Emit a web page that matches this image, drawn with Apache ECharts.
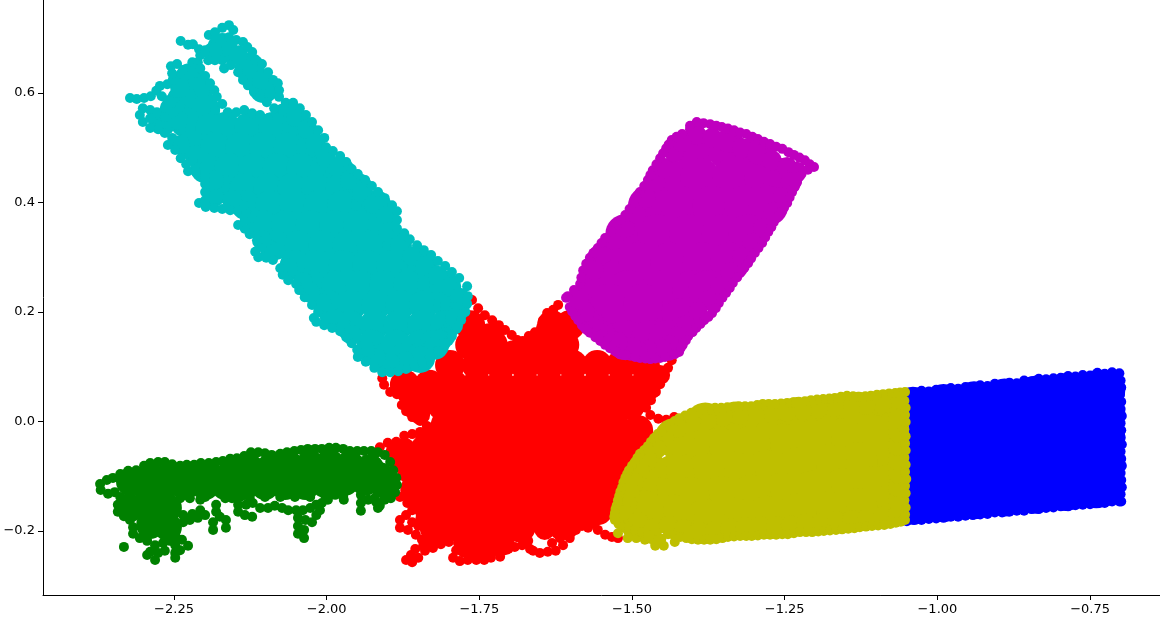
<!DOCTYPE html>
<html lang="en" style="height: 100%">
  <head>
    <meta charset="utf-8">
    <title>Clusters</title>
  </head>
  <body style="height: 100%; margin: 0; background: #fff">
    <div id="container" style="width: 1160px; height: 630px"></div>
    <script src="https://cdn.jsdelivr.net/npm/echarts@6/dist/echarts.min.js"></script>
    <script>
      var xTicks = [-2.25, -2.0, -1.75, -1.5, -1.25, -1.0, -0.75];
      var yTicks = [-0.2, 0.0, 0.2, 0.4, 0.6];

      // points; "fill" sits inside a cluster, "rim" just inside its border, "edge" traces the outline
      var redFill = [[-1.765,.176],[-1.733,.152],[-1.765,.14],[-1.728,.14],[-1.693,.121],[-1.652,.14],[-1.611,.14],[-1.602,.176],[-1.631,.176],[-1.672,.128],[-1.63,.16],
        [-1.798,.103],[-1.754,.103],[-1.715,.103],[-1.675,.103],[-1.636,.103],[-1.597,.103],[-1.557,.103],[-1.518,.103],[-1.479,.103],
        [-1.872,.067],[-1.832,.067],[-1.793,.067],[-1.754,.067],[-1.715,.067],[-1.675,.067],[-1.636,.067],[-1.597,.067],[-1.557,.067],[-1.518,.067],[-1.479,.067],
        [-1.85,.03],[-1.811,.03],[-1.772,.03],[-1.733,.03],[-1.693,.03],[-1.654,.03],[-1.615,.03],[-1.575,.03],[-1.536,.03],[-1.503,.03],
        [-1.805,-.006],[-1.765,-.006],[-1.726,-.006],[-1.687,-.006],[-1.647,-.006],[-1.608,-.006],[-1.569,-.006],[-1.53,-.006],[-1.49,-.016],
        [-1.824,-.034],[-1.785,-.029],[-1.746,-.029],[-1.706,-.029],[-1.667,-.029],[-1.628,-.029],[-1.589,-.029],[-1.549,-.029],[-1.51,-.029],
        [-1.88,-.061],[-1.839,-.052],[-1.8,-.052],[-1.76,-.052],[-1.721,-.052],[-1.682,-.052],[-1.643,-.052],[-1.603,-.052],[-1.564,-.052],[-1.525,-.052],[-1.487,-.052],
        [-1.86,-.089],[-1.821,-.089],[-1.782,-.089],[-1.742,-.089],[-1.703,-.089],[-1.664,-.089],[-1.624,-.089],[-1.585,-.089],[-1.546,-.089],[-1.507,-.089],
        [-1.855,-.125],[-1.816,-.125],[-1.777,-.125],[-1.737,-.125],[-1.698,-.125],[-1.659,-.125],[-1.62,-.125],[-1.58,-.125],[-1.541,-.125],[-1.502,-.125],
        [-1.831,-.162],[-1.792,-.162],[-1.752,-.162],[-1.713,-.162],[-1.674,-.162],[-1.634,-.162],[-1.595,-.162],[-1.556,-.162],[-1.516,-.162],
        [-1.823,-.194],[-1.782,-.194],[-1.742,-.194],[-1.703,-.194],[-1.683,-.194],[-1.642,-.184],[-1.61,-.189],[-1.757,-.226],[-1.724,-.216]];
      var redRim = [[-1.86,.024],[-1.847,.012],[-1.839,-.034],[-1.872,-.048],[-1.86,-.134],[-1.847,-.152],[-1.839,-.18],[-1.827,-.216],[-1.806,-.202],[-1.773,-.231],[-1.749,-.235],[-1.708,-.226],[-1.643,-.198],[-1.618,-.198],[-1.593,-.171],[-1.569,-.171],[-1.454,.085],[-1.47,.058],[-1.484,.039]];
      var redEdge = [[-1.762,.222],[-1.752,.207],[-1.741,.194],[-1.729,.185],[-1.718,.176],[-1.708,.167],[-1.697,.158],[-1.688,.149],[-1.679,.147],[-1.669,.156],[-1.659,.163],[-1.649,.171],[-1.646,.184],[-1.639,.198],[-1.629,.204],[-1.621,.213],
        [-1.435,.112],[-1.441,.098],[-1.448,.083],[-1.454,.068],[-1.461,.054],[-1.469,.039],[-1.477,.025],[-1.47,.012],[-1.457,.005],[-1.444,.003],[-1.431,.008],
        [-1.909,.079],[-1.906,.067],[-1.896,.054],[-1.885,.05],[-1.875,.045],[-1.877,.03],[-1.87,.019],[-1.86,.008],[-1.847,.001],[-1.836,-.008],[-1.847,-.019],[-1.86,-.023],[-1.873,-.026],[-1.886,-.037],[-1.9,-.039],[-1.913,-.047],
        [-1.88,-.138],[-1.868,-.149],[-1.86,-.162],[-1.87,-.171],[-1.88,-.18],[-1.88,-.194],[-1.867,-.198],[-1.86,-.184],[-1.85,-.191],[-1.854,-.207],[-1.844,-.216],[-1.842,-.227],[-1.855,-.233],[-1.862,-.244],[-1.87,-.253],[-1.86,-.257],[-1.85,-.249],[-1.839,-.236],[-1.826,-.231],[-1.813,-.224],[-1.8,-.22],[-1.79,-.207],[-1.785,-.222],[-1.788,-.235],[-1.793,-.249],[-1.782,-.255],[-1.769,-.253],[-1.755,-.253],[-1.742,-.253],[-1.731,-.249],[-1.716,-.247],[-1.728,-.238],[-1.705,-.231],[-1.692,-.229],[-1.68,-.226],[-1.67,-.218],
        [-1.667,-.233],[-1.662,-.236],[-1.651,-.24],[-1.638,-.238],[-1.625,-.236],[-1.613,-.226],[-1.602,-.213],[-1.592,-.198],[-1.582,-.191],[-1.572,-.194],[-1.562,-.187],[-1.556,-.198],[-1.544,-.207],[-1.533,-.211],[-1.523,-.213],[-1.631,-.222],[-1.618,-.213]];

      var greenFill = [[-2.322,-.11],[-2.289,-.1],[-2.257,-.1],[-2.224,-.1],[-2.191,-.1],[-2.158,-.096],[-2.126,-.085],[-2.093,-.085],[-2.06,-.081],[-2.027,-.078],[-1.995,-.076],[-1.962,-.079],[-1.929,-.085],[-1.913,-.1],
        [-2.297,-.118],[-2.265,-.118],[-2.232,-.118],[-2.199,-.118],[-2.166,-.118],[-2.134,-.118],[-2.101,-.118],[-2.068,-.118],[-2.035,-.118],[-2.003,-.114],[-1.97,-.11],[-1.937,-.11],[-1.908,-.114],
        [-2.322,-.158],[-2.289,-.152],[-2.26,-.158],[-2.289,-.189],[-2.26,-.193]];
      var greenEdge = [[-2.371,-.114],[-2.36,-.107],[-2.35,-.103],[-2.338,-.096],[-2.325,-.09],[-2.312,-.089],[-2.299,-.081],[-2.289,-.076],[-2.276,-.074],[-2.265,-.074],[-2.253,-.078],[-2.24,-.081],[-2.229,-.079],[-2.217,-.079],[-2.206,-.076],[-2.193,-.076],[-2.181,-.074],[-2.17,-.072],[-2.158,-.068],[-2.147,-.067],[-2.135,-.063],[-2.124,-.056],[-2.112,-.056],[-2.101,-.058],[-2.09,-.061],[-2.076,-.059],[-2.065,-.056],[-2.053,-.054],[-2.042,-.052],[-2.031,-.05],[-2.019,-.05],[-2.008,-.05],[-1.996,-.048],[-1.985,-.048],[-1.973,-.05],[-1.962,-.054],[-1.95,-.054],[-1.939,-.054],[-1.927,-.054],[-1.916,-.056],[-1.905,-.061],[-1.896,-.074],[-1.891,-.089],[-1.886,-.103],[-1.885,-.116],[-1.888,-.129],[-1.895,-.14],[-1.905,-.143],[-1.913,-.154],[-1.916,-.158],[-1.919,-.147],
        [-2.37,-.125],[-2.358,-.132],[-2.347,-.129],[-2.342,-.152],[-2.342,-.165],[-2.332,-.173],[-2.322,-.18],[-2.317,-.193],[-2.317,-.205],[-2.306,-.213],[-2.294,-.218],[-2.332,-.229],[-2.281,-.226],[-2.268,-.222],[-2.257,-.218],[-2.247,-.211],[-2.237,-.216],[-2.227,-.227],[-2.24,-.235],[-2.248,-.24],[-2.248,-.249],[-2.248,-.226],[-2.265,-.236],[-2.276,-.24],[-2.289,-.238],[-2.281,-.253],[-2.294,-.244],[-2.338,-.138],[-2.325,-.138],[-2.335,-.149],
        [-2.207,-.143],[-2.199,-.138],[-2.207,-.162],[-2.199,-.171],[-2.211,-.176],[-2.224,-.18],[-2.235,-.184],[-2.248,-.184],[-2.257,-.189],[-2.24,-.14],[-2.224,-.14],[-2.235,-.171],[-2.22,-.169],[-2.181,-.152],[-2.181,-.165],[-2.186,-.184],[-2.186,-.198],[-2.165,-.18],[-2.165,-.194],[-2.175,-.174],
        [-2.145,-.152],[-2.145,-.165],[-2.134,-.171],[-2.122,-.174],[-2.132,-.152],[-2.121,-.149],[-2.109,-.158],[-2.096,-.158],[-2.085,-.154],[-2.073,-.158],[-2.063,-.162],[-2.05,-.162],[-2.039,-.162],[-2.027,-.158],[-2.017,-.152],[-2.008,-.149],[-1.998,-.143],[-1.986,-.134],[-2.166,-.14],[-2.155,-.14],[-2.142,-.138],[-2.126,-.138],[-2.101,-.138],[-2.076,-.138],[-2.052,-.138],[-2.027,-.138],[-2.003,-.134],
        [-2.047,-.176],[-2.047,-.191],[-2.047,-.205],[-2.037,-.213],[-2.037,-.198],[-2.035,-.18],[-2.024,-.184],[-2.017,-.171],[-2.011,-.162],[-1.973,-.136],[-1.972,-.143],[-1.944,-.134],[-1.944,-.149],[-1.944,-.163],[-1.932,-.143],[-1.921,-.14],[-1.905,-.136]];

      var blueFill = [[-1.04,.027],[-.99,.032],[-.94,.037],[-.89,.042],[-.84,.047],[-.79,.052],[-.74,.057],[-.725,.058],
        [-1.015,-.016],[-.965,-.011],[-.915,-.006],[-.865,-.001],[-.815,.004],[-.765,.009],[-.725,.013],
        [-1.04,-.064],[-.99,-.059],[-.94,-.054],[-.89,-.049],[-.84,-.044],[-.79,-.039],[-.74,-.034],[-.725,-.03],
        [-1.015,-.106],[-.965,-.101],[-.915,-.096],[-.865,-.091],[-.815,-.086],[-.765,-.081],[-.725,-.077],
        [-1.04,-.152],[-.99,-.147],[-.94,-.142],[-.89,-.137],[-.84,-.132],[-.79,-.127],[-.74,-.122],[-.725,-.118]];
      var blueEdge = [[-1.05,.052],[-1.038,.053],[-1.026,.056],[-1.014,.055],[-1.002,.058],[-.99,.057],[-.978,.061],[-.966,.06],[-.954,.063],[-.942,.062],[-.93,.066],[-.918,.065],[-.906,.069],[-.894,.068],[-.882,.071],[-.87,.07],[-.858,.075],[-.846,.073],[-.834,.078],[-.822,.077],[-.81,.079],[-.798,.08],[-.786,.083],[-.774,.082],[-.762,.085],[-.75,.084],[-.738,.089],[-.726,.087],[-.714,.09],[-.702,.088],
        [-.7,.075],[-.699,.062],[-.701,.049],[-.699,.036],[-.7,.023],[-.698,.01],[-.7,-.003],[-.699,-.016],[-.7,-.029],[-.698,-.042],[-.7,-.055],[-.699,-.068],[-.698,-.081],[-.7,-.094],[-.699,-.107],[-.698,-.12],[-.7,-.133],[-.699,-.146],
        [-.702,-.146],[-.714,-.146],[-.726,-.149],[-.738,-.148],[-.75,-.151],[-.762,-.152],[-.774,-.153],[-.786,-.155],[-.798,-.155],[-.81,-.157],[-.822,-.158],[-.834,-.16],[-.846,-.16],[-.858,-.163],[-.87,-.163],[-.882,-.165],[-.894,-.166],[-.906,-.166],[-.918,-.169],[-.93,-.17],[-.942,-.171],[-.954,-.172],[-.966,-.174],[-.978,-.174],[-.99,-.176],[-1.002,-.177],[-1.014,-.178],[-1.026,-.18],[-1.038,-.18],[-1.05,-.182]];

      var cyanFill = [[-2.171,.682],[-2.126,.646],[-2.103,.609],[-2.224,.627],[-2.211,.602],[-2.237,.587],[-2.199,.569],[-2.232,.547],[-2.191,.536],[-2.221,.505],[-2.068,.554],
        [-2.166,.538],[-2.127,.538],[-2.088,.538],[-2.049,.538],
        [-2.183,.501],[-2.142,.501],[-2.103,.501],[-2.063,.501],[-2.026,.501],
        [-2.199,.463],[-2.16,.463],[-2.121,.463],[-2.081,.463],[-2.042,.463],[-2.003,.463],[-1.978,.456],
        [-2.175,.426],[-2.135,.426],[-2.096,.426],[-2.057,.426],[-2.017,.426],[-1.978,.426],[-1.949,.426],
        [-2.132,.395],[-2.093,.395],[-2.053,.395],[-2.014,.395],[-1.975,.395],[-1.936,.395],[-1.919,.395],
        [-2.106,.359],[-2.067,.359],[-2.027,.359],[-1.988,.359],[-1.949,.359],[-1.909,.359],
        [-2.085,.322],[-2.045,.322],[-2.006,.322],[-1.967,.322],[-1.927,.322],[-1.885,.322],
        [-2.052,.286],[-2.013,.286],[-1.973,.286],[-1.934,.286],[-1.895,.286],[-1.855,.286],[-1.844,.286],
        [-2.024,.249],[-1.985,.249],[-1.945,.249],[-1.906,.249],[-1.867,.249],[-1.828,.249],[-1.808,.249],
        [-1.998,.213],[-1.959,.213],[-1.919,.213],[-1.88,.213],[-1.841,.213],[-1.801,.213],[-1.79,.213],
        [-1.962,.176],[-1.922,.176],[-1.883,.176],[-1.844,.176],[-1.806,.176],
        [-1.926,.14],[-1.886,.14],[-1.847,.14],[-1.824,.14],[-1.905,.116],[-1.872,.116],[-1.847,.116]];
      var cyanRim = [[-2.05,.556],[-2.032,.534],[-2.019,.509],[-2.001,.481],[-1.981,.463],[-1.962,.441],[-1.942,.419],[-1.923,.397],[-1.903,.375],[-1.9,.346],[-1.88,.322],[-1.86,.302],[-1.839,.284],[-1.818,.266],[-1.796,.246],[-1.782,.226],
        [-1.785,.2],[-1.793,.176],[-1.806,.154],[-1.815,.15],[-1.79,.19],[-1.824,.136],[-1.847,.12],[-1.872,.11],[-1.896,.107],[-1.919,.116],[-1.937,.131],[-1.959,.158],[-1.978,.182],[-1.995,.191],[-2.008,.216],[-2.027,.235],[-2.039,.255],[-2.063,.28],[-2.093,.313],[-2.106,.331],
        [-2.145,.669],[-2.106,.624],[-2.184,.41],[-2.155,.404],[-2.184,.441],[-2.216,.487],[-2.24,.505],[-2.276,.551],[-2.265,.541],[-2.243,.551],[-2.257,.572],[-2.24,.609],[-2.186,.675]];
      var cyanEdge = [[-2.239,.695],[-2.227,.688],[-2.219,.689],[-2.209,.68],[-2.193,.706],[-2.183,.711],[-2.171,.719],[-2.16,.724],[-2.153,.715],[-2.16,.702],[-2.148,.697],[-2.137,.693],[-2.13,.684],[-2.122,.675],[-2.117,.66],[-2.106,.653],[-2.096,.638],[-2.088,.624],[-2.08,.618],[-2.078,.605],[-2.078,.593],[-2.067,.582],[-2.055,.582],[-2.044,.572],[-2.034,.56],[-2.024,.547],[-2.014,.532],[-2.004,.518],[-2.001,.501],[-1.99,.494],[-1.978,.485],[-1.968,.474],[-1.959,.461],[-1.949,.452],[-1.937,.441],[-1.926,.43],[-1.916,.419],[-1.905,.408],[-1.893,.395],[-1.885,.384],[-1.885,.368],[-1.885,.353],[-1.873,.344],[-1.864,.333],[-1.852,.322],[-1.841,.313],[-1.829,.304],[-1.818,.293],[-1.806,.284],[-1.795,.273],[-1.783,.262],[-1.77,.247],
        [-1.769,.229],[-1.77,.215],[-1.773,.2],[-1.78,.185],[-1.787,.171],[-1.795,.156],[-1.805,.142],[-1.818,.129],[-1.831,.118],[-1.844,.109],[-1.857,.101],[-1.87,.096],[-1.883,.092],[-1.896,.09],[-1.909,.09],[-1.922,.098],[-1.936,.109],[-1.949,.118],[-1.95,.131],[-1.959,.143],[-1.968,.154],[-1.978,.165],[-1.991,.171],[-2.004,.176],[-2.017,.182],[-2.021,.189],[-2.014,.2],[-2.024,.213],[-2.036,.227],[-2.045,.24],[-2.05,.251],[-2.063,.258],[-2.072,.268],[-2.076,.28],[-2.088,.295],[-2.099,.299],[-2.112,.3],[-2.117,.31],[-2.106,.319],[-2.112,.331],[-2.126,.342],[-2.134,.352],[-2.145,.359],[-2.134,.368],[-2.122,.372],
        [-2.209,.399],[-2.198,.392],[-2.184,.39],[-2.171,.388],[-2.158,.386],[-2.145,.386],[-2.132,.383],[-2.135,.395],[-2.199,.404],[-2.199,.419],[-2.199,.434],[-2.199,.448],[-2.227,.457],[-2.214,.456],[-2.23,.47],[-2.219,.478],[-2.239,.481],[-2.248,.496],[-2.26,.505],[-2.253,.518],[-2.265,.527],[-2.276,.534],[-2.289,.536],[-2.301,.547],[-2.306,.56],[-2.301,.572],[-2.289,.569],[-2.278,.565],[-2.265,.556],[-2.289,.554],
        [-2.322,.591],[-2.311,.589],[-2.299,.591],[-2.288,.594],[-2.279,.604],[-2.27,.594],[-2.26,.587],[-2.248,.582],[-2.24,.576],[-2.273,.613],[-2.261,.616],[-2.252,.624],[-2.253,.636],[-2.255,.649],[-2.245,.653],[-2.235,.642],[-2.22,.656],[-2.211,.656],[-2.207,.669],[-2.199,.678],
        [-2.194,.66],[-2.183,.66],[-2.171,.66],[-2.168,.645],[-2.157,.651],[-2.145,.638],[-2.137,.624],[-2.129,.614],[-2.119,.602],[-2.109,.594],[-2.098,.583],[-2.086,.572],[-2.162,.565],[-2.148,.565],[-2.135,.569],[-2.122,.563],[-2.109,.56],[-2.096,.554],[-2.207,.645],[-2.199,.631],[-2.191,.618],[-2.184,.605],[-2.18,.593],[-2.171,.58],[-2.183,.569]];

      var magentaFill = [[-1.397,.496],[-1.344,.496],[-1.299,.484],
        [-1.441,.445],[-1.389,.445],[-1.336,.445],[-1.284,.445],[-1.254,.445],
        [-1.474,.394],[-1.421,.394],[-1.369,.394],[-1.317,.394],[-1.277,.394],
        [-1.511,.342],[-1.459,.342],[-1.407,.342],[-1.354,.342],[-1.31,.342],
        [-1.543,.291],[-1.49,.291],[-1.438,.291],[-1.385,.291],[-1.34,.291],
        [-1.559,.24],[-1.507,.24],[-1.454,.24],[-1.402,.24],[-1.376,.24],
        [-1.559,.189],[-1.507,.189],[-1.454,.189],[-1.418,.189],
        [-1.536,.215],[-1.482,.215],[-1.511,.149],[-1.47,.149],[-1.441,.149]];
      var magentaRim = [[-1.394,.523],[-1.369,.518],[-1.344,.509],[-1.32,.499],[-1.295,.488],[-1.271,.477],[-1.246,.465],[-1.23,.456],
        [-1.241,.437],[-1.254,.41],[-1.269,.383],[-1.286,.353],[-1.304,.326],[-1.32,.3],[-1.34,.273],[-1.356,.246],[-1.376,.222],[-1.392,.2],[-1.412,.176],[-1.426,.156],[-1.438,.14],
        [-1.451,.132],[-1.475,.131],[-1.49,.13],[-1.5,.136],[-1.523,.145],[-1.535,.15],[-1.544,.162],[-1.555,.17],[-1.562,.182],[-1.57,.19],[-1.577,.2],[-1.587,.222],
        [-1.569,.249],[-1.562,.277],[-1.548,.306],[-1.53,.331],[-1.511,.353],[-1.493,.379],[-1.477,.408],[-1.461,.437],[-1.448,.463],[-1.431,.492],[-1.418,.51]];
      var magentaEdge = [[-1.405,.534],[-1.4,.54],[-1.394,.547],[-1.383,.545],[-1.372,.543],[-1.362,.54],[-1.353,.538],[-1.343,.535],[-1.333,.532],[-1.323,.528],[-1.313,.525],[-1.303,.52],[-1.294,.516],[-1.284,.511],[-1.274,.507],[-1.264,.502],[-1.254,.498],[-1.244,.492],[-1.235,.487],[-1.226,.482],[-1.217,.477],[-1.209,.47],[-1.202,.465],
        [-1.212,.46],[-1.222,.456],[-1.23,.437],[-1.226,.447],[-1.238,.419],[-1.234,.428],[-1.246,.399],[-1.242,.409],[-1.256,.383],[-1.251,.391],[-1.268,.364],[-1.262,.373],[-1.277,.346],[-1.272,.355],[-1.287,.326],[-1.282,.336],[-1.299,.308],[-1.293,.317],[-1.31,.289],[-1.305,.298],[-1.322,.273],[-1.316,.281],[-1.335,.253],[-1.328,.263],[-1.346,.235],[-1.34,.244],[-1.358,.216],[-1.352,.226],[-1.369,.198],[-1.363,.207],[-1.382,.185],[-1.375,.191],[-1.395,.171],[-1.388,.178],[-1.408,.156],[-1.401,.163],[-1.417,.14],[-1.412,.148],[-1.423,.127],
        [-1.438,.12],[-1.43,.123],[-1.454,.116],[-1.446,.118],[-1.47,.114],[-1.462,.115],[-1.487,.116],[-1.478,.115],[-1.503,.12],[-1.495,.118],[-1.52,.123],[-1.511,.121],[-1.536,.134],[-1.528,.129],[-1.552,.147],[-1.544,.14],[-1.569,.162],[-1.56,.154],[-1.582,.176],[-1.575,.169],[-1.593,.193],[-1.588,.185],[-1.602,.209],[-1.598,.201],[-1.608,.226],
        [-1.605,.229],[-1.595,.24],[-1.585,.251],[-1.58,.276],[-1.583,.263],[-1.569,.299],[-1.575,.288],[-1.556,.317],[-1.563,.308],[-1.544,.335],[-1.55,.326],[-1.525,.359],[-1.534,.347],[-1.511,.377],[-1.518,.368],[-1.497,.399],[-1.504,.388],[-1.487,.419],[-1.492,.409],[-1.474,.441],[-1.48,.43],[-1.466,.459],[-1.47,.45],[-1.454,.481],[-1.46,.47],[-1.444,.499],[-1.449,.49],[-1.435,.514],[-1.44,.506],[-1.418,.525],[-1.427,.52],[-1.405,.54]];

      var yellowFill = [[-1.08,.022],[-1.13,.018],[-1.18,.012],[-1.23,.008],[-1.28,.003],[-1.33,0],[-1.38,-.002],
        [-1.08,-.022],[-1.105,-.024],[-1.155,-.03],[-1.205,-.034],[-1.255,-.04],[-1.305,-.044],[-1.355,-.048],[-1.405,-.05],[-1.43,-.03],
        [-1.08,-.07],[-1.13,-.074],[-1.18,-.078],[-1.23,-.084],[-1.28,-.088],[-1.33,-.092],[-1.38,-.094],[-1.43,-.096],[-1.475,-.09],
        [-1.08,-.115],[-1.105,-.118],[-1.155,-.122],[-1.205,-.126],[-1.255,-.13],[-1.305,-.134],[-1.355,-.136],[-1.405,-.138],[-1.455,-.138],[-1.49,-.13],
        [-1.08,-.153],[-1.13,-.158],[-1.18,-.164],[-1.23,-.168],[-1.28,-.172],[-1.33,-.176],[-1.38,-.178],[-1.43,-.17],[-1.48,-.162]];
      var yellowRim = [[-1.065,.036],[-1.091,.033],[-1.117,.03],[-1.143,.03],[-1.169,.027],[-1.195,.024],[-1.221,.02],[-1.247,.018],[-1.273,.016],[-1.299,.013],[-1.325,.012],[-1.351,.009],[-1.377,.003],[-1.403,0],[-1.425,-.012],
        [-1.447,-.03],[-1.46,-.05],[-1.475,-.07],[-1.487,-.09],[-1.497,-.11],[-1.503,-.13],[-1.508,-.15],[-1.51,-.17],
        [-1.5,-.195],[-1.47,-.205],[-1.49,-.183],[-1.465,-.195],[-1.44,-.19],[-1.415,-.197],[-1.39,-.2],[-1.365,-.2],[-1.34,-.195],[-1.315,-.193],[-1.29,-.192],[-1.265,-.191],[-1.24,-.19],[-1.215,-.186],[-1.19,-.185],[-1.165,-.182],[-1.14,-.18],[-1.115,-.176],[-1.09,-.173],[-1.065,-.169],
        [-1.065,-.145],[-1.065,-.12],[-1.065,-.095],[-1.065,-.07],[-1.065,-.045],[-1.065,-.02],[-1.065,.005]];
      var yellowEdge = [[-1.528,-.18],[-1.522,-.187],[-1.516,-.193],[-1.523,-.204],[-1.507,-.213],[-1.493,-.213],[-1.479,-.216],[-1.462,-.227],[-1.448,-.227],[-1.43,-.22],[-1.505,-.196],[-1.495,-.198],[-1.484,-.202],[-1.474,-.207],[-1.468,-.214],[-1.462,-.222],[-1.452,-.214],[-1.441,-.206],[-1.431,-.208],[-1.421,-.211],[-1.411,-.213],[-1.402,-.215],[-1.392,-.216],[-1.382,-.216],[-1.372,-.216],[-1.362,-.215],[-1.352,-.213],[-1.343,-.211],[-1.333,-.21],[-1.323,-.209],[-1.313,-.209],[-1.304,-.209],[-1.294,-.208],[-1.284,-.207],[-1.274,-.207],[-1.264,-.207],[-1.254,-.206],[-1.245,-.206],[-1.235,-.204],[-1.225,-.202],[-1.215,-.202],[-1.205,-.202],[-1.195,-.201],[-1.186,-.2],[-1.176,-.199],[-1.166,-.198],[-1.156,-.197],[-1.146,-.196],[-1.136,-.195],[-1.127,-.193],[-1.117,-.192],[-1.107,-.191],[-1.097,-.19],[-1.087,-.189],[-1.077,-.187],[-1.068,-.185],[-1.06,-.183],[-1.053,-.18],
        [-1.053,-.17],[-1.052,-.157],[-1.054,-.144],[-1.052,-.131],[-1.053,-.118],[-1.051,-.105],[-1.053,-.092],[-1.052,-.079],[-1.054,-.066],[-1.052,-.053],[-1.053,-.04],[-1.052,-.027],[-1.054,-.014],[-1.052,-.001],[-1.053,.012],[-1.052,.025],[-1.054,.038],[-1.053,.054],
        [-1.061,.053],[-1.069,.052],[-1.079,.051],[-1.089,.05],[-1.099,.049],[-1.109,.047],[-1.118,.046],[-1.128,.045],[-1.138,.046],[-1.148,.047],[-1.158,.045],[-1.168,.043],[-1.177,.042],[-1.187,.041],[-1.197,.04],[-1.207,.039],[-1.217,.037],[-1.227,.036],[-1.236,.035],[-1.246,.034],[-1.256,.033],[-1.266,.032],[-1.276,.032],[-1.286,.032],[-1.295,.03],[-1.305,.028],[-1.315,.028],[-1.325,.028],[-1.334,.027],[-1.344,.026],[-1.354,.025],[-1.364,.025],[-1.374,.021],[-1.384,.017],[-1.393,.016],[-1.403,.016],[-1.413,.011],[-1.423,.006],
        [-1.43,.001],[-1.438,-.005],[-1.445,-.011],[-1.451,-.017],[-1.458,-.023],[-1.464,-.03],[-1.469,-.037],[-1.474,-.045],[-1.48,-.052],[-1.487,-.059],[-1.491,-.066],[-1.495,-.074],[-1.5,-.081],[-1.505,-.089],[-1.508,-.096],[-1.511,-.103],[-1.514,-.111],[-1.516,-.12],[-1.519,-.128],[-1.521,-.136],[-1.523,-.144],[-1.525,-.153],[-1.527,-.16],[-1.528,-.167],[-1.529,-.174]];

      var myChart = echarts.init(document.getElementById('container'), null, { renderer: 'canvas' });

      // big fill marks only close the solid interior, the outline marks keep the real dot size
      function dots(data, color, size) {
        return {
          type: 'scatter',
          data: data,
          symbol: 'circle',
          symbolSize: size,
          itemStyle: { color: color, opacity: 1 },
          silent: true,
          clip: false
        };
      }

      function minusLabel(digits) {
        return function (value) {
          return value.toFixed(digits).replace('-', '\u2212');
        };
      }

      var option = {
        animation: false,
        backgroundColor: '#fff',
        grid: { left: 43, right: 0, top: 0, bottom: 35 },
        xAxis: {
          type: 'value',
          min: -2.4645,
          max: -0.6355,
          axisLine: { onZero: false, lineStyle: { color: '#000', width: 1 } },
          axisTick: { length: 5, lineStyle: { color: '#000', width: 1 }, customValues: xTicks },
          axisLabel: { color: '#000', fontSize: 13, fontFamily: 'DejaVu Sans', margin: 8, customValues: xTicks, formatter: minusLabel(2) },
          splitLine: { show: false }
        },
        yAxis: {
          type: 'value',
          min: -0.3169,
          max: 0.7699,
          axisLine: { onZero: false, lineStyle: { color: '#000', width: 1 } },
          axisTick: { length: 5, lineStyle: { color: '#000', width: 1 }, customValues: yTicks },
          axisLabel: { color: '#000', fontSize: 13, fontFamily: 'DejaVu Sans', margin: 8, padding: [3, 0, 0, 0], customValues: yTicks, formatter: minusLabel(1) },
          splitLine: { show: false }
        },
        series: [
          dots(redFill, '#ff0000', 30),
          dots(redRim, '#ff0000', 20),
          dots(redEdge, '#ff0000', 10),
          dots(greenFill, '#008000', 28),
          dots(greenEdge, '#008000', 10),
          dots(blueFill, '#0000ff', 40),
          dots(blueEdge, '#0000ff', 10),
          dots(cyanFill, '#00bfbf', 30),
          dots(cyanRim, '#00bfbf', 20),
          dots(cyanEdge, '#00bfbf', 10),
          dots(magentaFill, '#bf00bf', 40),
          dots(magentaRim, '#bf00bf', 20),
          dots(magentaEdge, '#bf00bf', 10),
          dots(yellowFill, '#bfbf00', 40),
          dots(yellowRim, '#bfbf00', 20),
          dots(yellowEdge, '#bfbf00', 10)
        ]
      };

      myChart.setOption(option);
    </script>
  </body>
</html>
